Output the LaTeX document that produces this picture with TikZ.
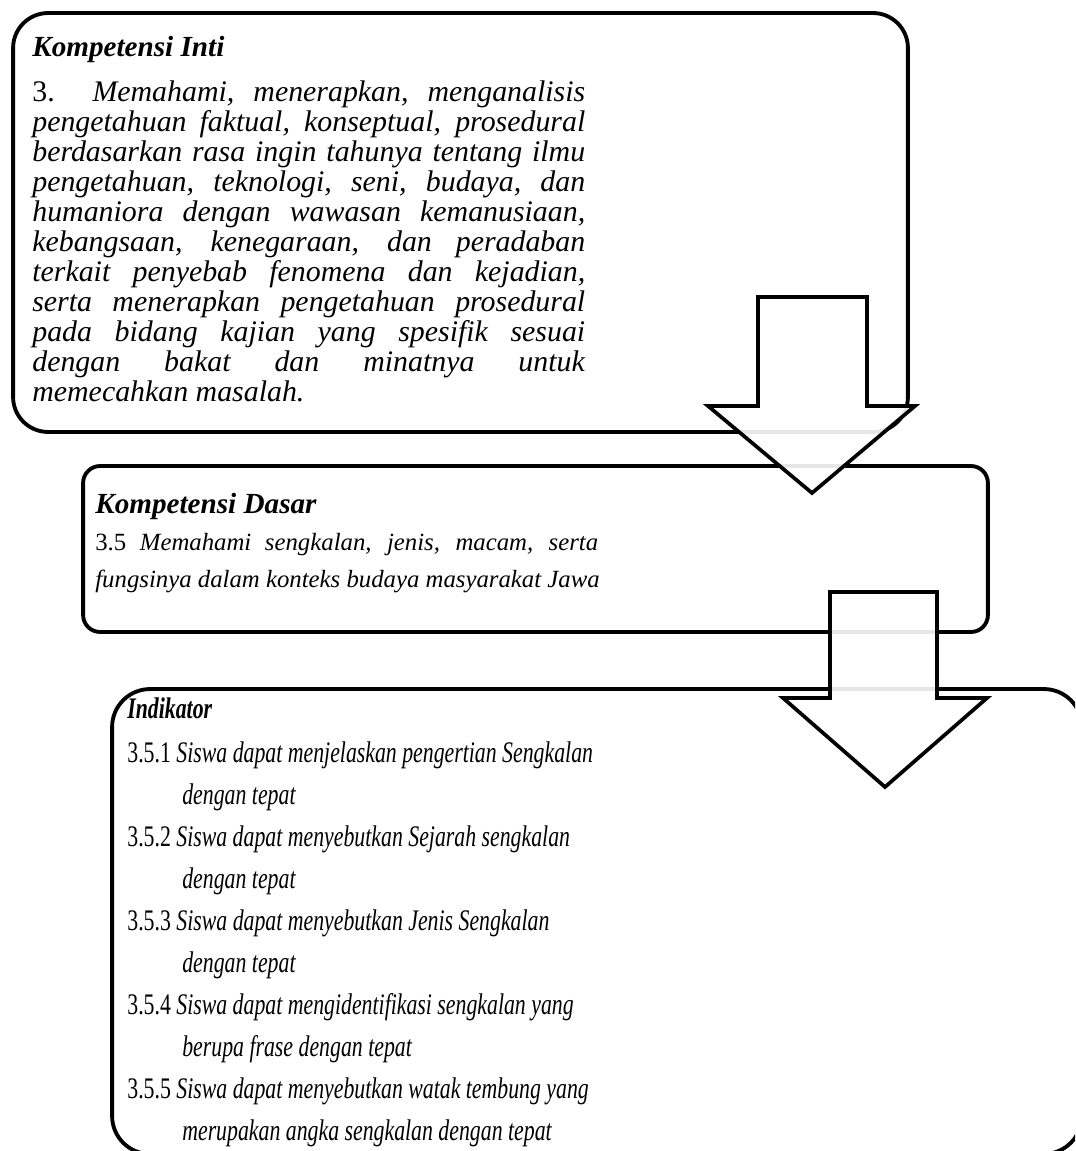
\documentclass[tikz,border=0pt]{standalone}
\usepackage{fontspec}
\setmainfont{Liberation Serif}
\newfontfamily\narrowserif[FakeStretch=0.73]{Liberation Serif}
\newcommand\jline[2][11.06cm]{\makebox[#1][s]{#2}}

\begin{document}
\begin{tikzpicture}[x=0.02cm, y=-0.02cm,
    panel/.style={draw, line width=2.2pt, fill=white},
    blockarrow/.style={draw, line width=2.1pt, line join=miter, fill=white, fill opacity=0.9},
    heading/.style={anchor=base west, inner sep=0pt, font=\fontsize{16.6}{17}\selectfont\bfseries\itshape},
    bodytext/.style={anchor=north west, inner sep=0pt, align=left}]
		\useasboundingbox (0,0) rectangle (1075,1151);
		\clip (0,0) rectangle (1075,1151);

		\node[panel, rounded corners=0.7cm, minimum width=17.9cm, minimum height=8.38cm] (inti) at (460.5,222.5) {};
		\node[panel, rounded corners=0.34cm, minimum width=18.1cm, minimum height=3.32cm] (dasar) at (535.5,549) {};
		\node[panel, rounded corners=0.76cm, minimum width=19.4cm, minimum height=9.3cm] (indikator) at (597,921.5) {};

		\node[heading] (intititle) at (32,57) {Kompetensi Inti};
		\node[bodytext, font=\fontsize{17}{17.07}\selectfont] (intitext) at (32,80.3) {%
			\jline{3. \textit{Memahami, menerapkan, menganalisis}}\\
			\jline{\textit{pengetahuan faktual, konseptual, prosedural}}\\
			\jline{\textit{berdasarkan rasa ingin tahunya tentang ilmu}}\\
			\jline{\textit{pengetahuan, teknologi, seni, budaya, dan}}\\
			\jline{\textit{humaniora dengan wawasan kemanusiaan,}}\\
			\jline{\textit{kebangsaan, kenegaraan, dan peradaban}}\\
			\jline{\textit{terkait penyebab fenomena dan kejadian,}}\\
			\jline{\textit{serta menerapkan pengetahuan prosedural}}\\
			\jline{\textit{pada bidang kajian yang spesifik sesuai}}\\
			\jline{\textit{dengan bakat dan minatnya untuk}}\\
			\textit{memecahkan masalah.}};

		\node[heading] (dasartitle) at (95,513) {Kompetensi Dasar};
		\node[bodytext, font=\fontsize{14.1}{21}\selectfont] (dasartext) at (95,533) {%
			\jline[10.06cm]{3.5 \textit{Memahami sengkalan, jenis, macam, serta}}\\
			\textit{fungsinya dalam konteks budaya masyarakat Jawa}};

		\node[heading, font=\narrowserif\fontsize{17}{24}\selectfont\bfseries\itshape] (indititle) at (127,718) {Indikator};
		\node[bodytext, font=\narrowserif\fontsize{17}{23.9}\selectfont] (inditext) at (127,741) {%
			3.5.1 \textit{Siswa dapat menjelaskan pengertian Sengkalan}\\
			\hspace*{1.1cm}\textit{dengan tepat}\\
			3.5.2 \textit{Siswa dapat menyebutkan Sejarah sengkalan}\\
			\hspace*{1.1cm}\textit{dengan tepat}\\
			3.5.3 \textit{Siswa dapat menyebutkan Jenis Sengkalan}\\
			\hspace*{1.1cm}\textit{dengan tepat}\\
			3.5.4 \textit{Siswa dapat mengidentifikasi sengkalan yang}\\
			\hspace*{1.1cm}\textit{berupa frase dengan tepat}\\
			3.5.5 \textit{Siswa dapat menyebutkan watak tembung yang}\\
			\hspace*{1.1cm}\textit{merupakan angka sengkalan dengan tepat}};

		\draw[blockarrow] (758,297) -- (867,297) -- (867,406) -- (915,406) -- (812,493) -- (708,406) -- (758,406) -- cycle;
		\draw[blockarrow] (830,592) -- (937,592) -- (937,698) -- (987,698) -- (885,787) -- (783,698) -- (830,698) -- cycle;
	\end{tikzpicture}
\end{document}
